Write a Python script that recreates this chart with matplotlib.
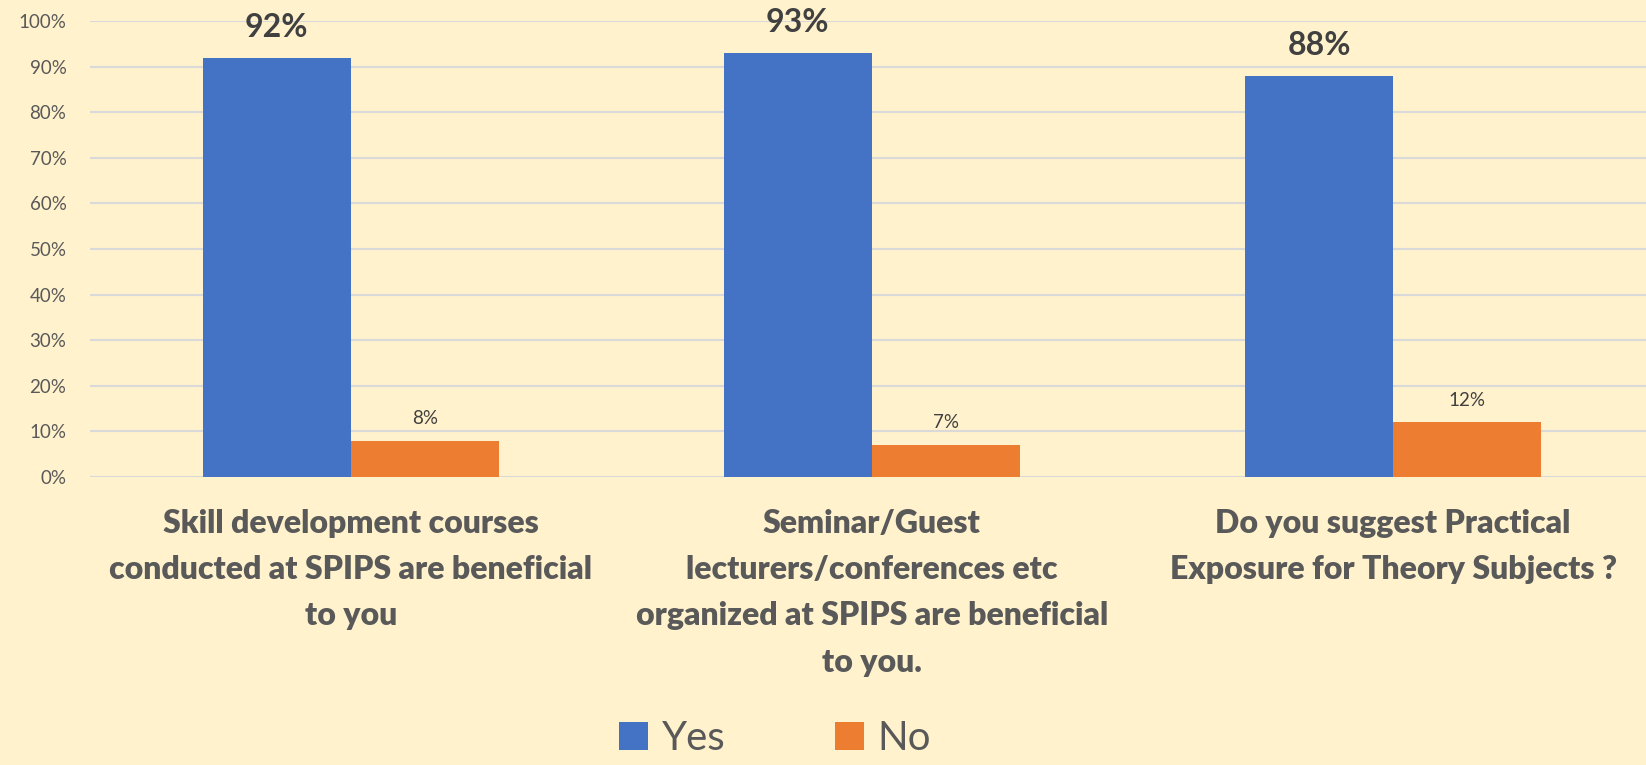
import numpy as np
import matplotlib
matplotlib.use("Agg")
import matplotlib.pyplot as plt

categories = [
    "Skill development courses\nconducted at SPIPS are beneficial\nto you",
    "Seminar/Guest\nlecturers/conferences etc\norganized at SPIPS are beneficial\nto you.",
    "Do you suggest Practical\nExposure for Theory Subjects ?",
]
yes_vals = [92, 93, 88]
no_vals = [8, 7, 12]
yticks = [0, 10, 20, 30, 40, 50, 60, 70, 80, 90, 100]

bg = "#FFF2CC"
blue = "#4472C4"
orange = "#ED7D31"
plt.rcParams["font.family"] = ["Lato", "DejaVu Sans"]

fig = plt.figure(figsize=(16.46, 7.65), dpi=100, facecolor=bg)
ax = fig.add_axes([0.0547, 0.3765, 0.950, 0.596], facecolor=bg)

x = np.arange(len(categories))
w = 0.284
b1 = ax.bar(x - w / 2, yes_vals, w, color=blue, label="Yes", zorder=2)
b2 = ax.bar(x + w / 2, no_vals, w, color=orange, label="No", zorder=2)

for r, v in zip(b1, yes_vals):
    ax.annotate(f"{v}%", (r.get_x() + r.get_width() / 2, v), xytext=(0, 15),
                textcoords="offset points", ha="center", va="baseline",
                fontsize=23, fontweight="bold", color="#404040")
for r, v in zip(b2, no_vals):
    ax.annotate(f"{v}%", (r.get_x() + r.get_width() / 2, v), xytext=(0, 12),
                textcoords="offset points", ha="center", va="baseline",
                fontsize=13.5, color="#404040")

ax.set_xlim(-0.5, 2.5)
ax.set_ylim(0, 100)
ax.set_yticks(yticks)
ax.set_yticklabels([f"{t}%" for t in yticks], fontsize=13.5, color="#595959")
ax.set_xticks(x)
ax.set_xticklabels(categories, fontsize=23, fontweight="heavy", color="#595959",
                   linespacing=1.72)
ax.tick_params(axis="y", length=0, pad=17)
ax.tick_params(axis="x", length=0, pad=23)
ax.grid(axis="y", color="#D9D9D9", linewidth=1.5, zorder=0)
for s in ax.spines.values():
    s.set_visible(False)

fig.legend(handles=[b1, b2], labels=["Yes", "No"], loc="lower center",
           bbox_to_anchor=(0.471, -0.016), ncol=2, frameon=False,
           fontsize=29, labelcolor="#595959", handlelength=0.72,
           handleheight=0.72, handletextpad=0.35, columnspacing=2.7,
           borderpad=0)

fig.savefig("out.png", dpi=100, facecolor=bg)
